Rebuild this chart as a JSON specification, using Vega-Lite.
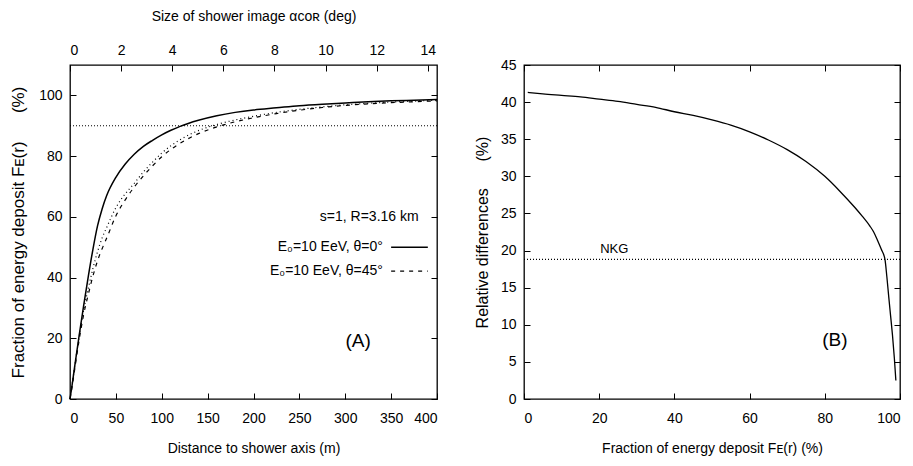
{
  "$schema": "https://vega.github.io/schema/vega-lite/v6.json",
  "padding": {"left": 8, "top": 8, "right": 5, "bottom": 5},
  "spacing": 32,
  "config": {
    "view": {"stroke": "black", "strokeWidth": 1.3},
    "axis": {
      "domain": false, "grid": false, "tickColor": "black", "tickSize": 6, "offset": -6, "tickWidth": 1,
      "labelColor": "black", "labelFont": "Liberation Sans", "labelFontSize": 14, "labelPadding": 8,
      "titleColor": "black", "titleFont": "Liberation Sans", "titleFontSize": 14, "titleFontWeight": "normal"
    },
    "axisY": {"titleFontSize": 16}
  },
  "datasets": {
    "curves": [
      {"series": "t0", "r": 0, "F": 0}, {"series": "t0", "r": 2, "F": 4}, {"series": "t0", "r": 5, "F": 10.5}, {"series": "t0", "r": 10, "F": 21}, {"series": "t0", "r": 15, "F": 31}, {"series": "t0", "r": 20, "F": 40.5}, {"series": "t0", "r": 25, "F": 49.3}, {"series": "t0", "r": 30, "F": 57}, {"series": "t0", "r": 35, "F": 62.6}, {"series": "t0", "r": 40, "F": 67}, {"series": "t0", "r": 50, "F": 73}, {"series": "t0", "r": 60, "F": 77.3}, {"series": "t0", "r": 70, "F": 80.6}, {"series": "t0", "r": 80, "F": 83.2}, {"series": "t0", "r": 90, "F": 85.2}, {"series": "t0", "r": 100, "F": 87}, {"series": "t0", "r": 110, "F": 88.5}, {"series": "t0", "r": 120, "F": 89.8}, {"series": "t0", "r": 140, "F": 91.8}, {"series": "t0", "r": 160, "F": 93.3}, {"series": "t0", "r": 180, "F": 94.4}, {"series": "t0", "r": 200, "F": 95.2}, {"series": "t0", "r": 225, "F": 95.9}, {"series": "t0", "r": 250, "F": 96.6}, {"series": "t0", "r": 275, "F": 97.1}, {"series": "t0", "r": 300, "F": 97.5}, {"series": "t0", "r": 325, "F": 97.9}, {"series": "t0", "r": 350, "F": 98.2}, {"series": "t0", "r": 375, "F": 98.4}, {"series": "t0", "r": 400, "F": 98.6},
      {"series": "t45", "r": 0, "F": 0}, {"series": "t45", "r": 2, "F": 3.5}, {"series": "t45", "r": 5, "F": 9.5}, {"series": "t45", "r": 10, "F": 19.5}, {"series": "t45", "r": 15, "F": 28}, {"series": "t45", "r": 20, "F": 34.5}, {"series": "t45", "r": 25, "F": 40.5}, {"series": "t45", "r": 30, "F": 45.5}, {"series": "t45", "r": 35, "F": 49.5}, {"series": "t45", "r": 40, "F": 53}, {"series": "t45", "r": 50, "F": 60.3}, {"series": "t45", "r": 60, "F": 65.5}, {"series": "t45", "r": 70, "F": 69.8}, {"series": "t45", "r": 80, "F": 73.5}, {"series": "t45", "r": 90, "F": 76.8}, {"series": "t45", "r": 100, "F": 79.8}, {"series": "t45", "r": 110, "F": 82.2}, {"series": "t45", "r": 120, "F": 84.2}, {"series": "t45", "r": 140, "F": 87.4}, {"series": "t45", "r": 160, "F": 89.6}, {"series": "t45", "r": 180, "F": 91.3}, {"series": "t45", "r": 200, "F": 92.6}, {"series": "t45", "r": 225, "F": 94}, {"series": "t45", "r": 250, "F": 95.1}, {"series": "t45", "r": 275, "F": 96}, {"series": "t45", "r": 300, "F": 96.7}, {"series": "t45", "r": 325, "F": 97.2}, {"series": "t45", "r": 350, "F": 97.6}, {"series": "t45", "r": 375, "F": 97.9}, {"series": "t45", "r": 400, "F": 98.2},
      {"series": "nkg", "r": 0, "F": 0}, {"series": "nkg", "r": 2, "F": 4}, {"series": "nkg", "r": 5, "F": 10.5}, {"series": "nkg", "r": 10, "F": 20.5}, {"series": "nkg", "r": 15, "F": 29.5}, {"series": "nkg", "r": 20, "F": 36.5}, {"series": "nkg", "r": 25, "F": 43}, {"series": "nkg", "r": 30, "F": 48.5}, {"series": "nkg", "r": 35, "F": 53}, {"series": "nkg", "r": 40, "F": 56.5}, {"series": "nkg", "r": 50, "F": 63}, {"series": "nkg", "r": 60, "F": 67.5}, {"series": "nkg", "r": 70, "F": 71}, {"series": "nkg", "r": 80, "F": 74.8}, {"series": "nkg", "r": 90, "F": 78}, {"series": "nkg", "r": 100, "F": 81}, {"series": "nkg", "r": 110, "F": 83.4}, {"series": "nkg", "r": 120, "F": 85.4}, {"series": "nkg", "r": 140, "F": 88.4}, {"series": "nkg", "r": 160, "F": 90.4}, {"series": "nkg", "r": 180, "F": 91.9}, {"series": "nkg", "r": 200, "F": 93.1}, {"series": "nkg", "r": 225, "F": 94.4}, {"series": "nkg", "r": 250, "F": 95.4}, {"series": "nkg", "r": 275, "F": 96.2}, {"series": "nkg", "r": 300, "F": 96.9}, {"series": "nkg", "r": 325, "F": 97.4}, {"series": "nkg", "r": 350, "F": 97.8}, {"series": "nkg", "r": 375, "F": 98.1}, {"series": "nkg", "r": 400, "F": 98.4}
    ],
    "diff": [
      {"fe": 1, "d": 41.3}, {"fe": 5, "d": 41.1}, {"fe": 10, "d": 40.9}, {"fe": 15, "d": 40.7}, {"fe": 20, "d": 40.4}, {"fe": 25, "d": 40.1}, {"fe": 30, "d": 39.7}, {"fe": 35, "d": 39.3}, {"fe": 40, "d": 38.7}, {"fe": 45, "d": 38.2}, {"fe": 50, "d": 37.6}, {"fe": 55, "d": 36.9}, {"fe": 60, "d": 36.0}, {"fe": 65, "d": 34.9}, {"fe": 70, "d": 33.6}, {"fe": 75, "d": 32.0}, {"fe": 80, "d": 30.0}, {"fe": 84, "d": 28.0}, {"fe": 88, "d": 25.8}, {"fe": 90, "d": 24.6}, {"fe": 92, "d": 23.3}, {"fe": 93, "d": 22.5}, {"fe": 94, "d": 21.4}, {"fe": 95, "d": 20.2}, {"fe": 96, "d": 18.8}, {"fe": 96.5, "d": 16.5}, {"fe": 97, "d": 13.8}, {"fe": 97.5, "d": 11.2}, {"fe": 98, "d": 8.6}, {"fe": 98.5, "d": 5.5}, {"fe": 98.9, "d": 2.5}
    ]
  },
  "hconcat": [
    {
      "width": 367, "height": 334,
      "data": {"name": "curves"},
      "layer": [
        {
          "transform": [{"filter": "datum.series == 't0'"}],
          "mark": {"type": "line", "color": "black", "strokeWidth": 1.5, "interpolate": "monotone"},
          "encoding": {
            "x": {"field": "r", "type": "quantitative", "scale": {"domain": [0, 400], "nice": false, "zero": false},
                  "axis": {"orient": "bottom", "values": [0, 50, 100, 150, 200, 250, 300, 350, 400], "title": "Distance to shower axis (m)", "labelPadding": 12, "titlePadding": 16}},
            "y": {"field": "F", "type": "quantitative", "scale": {"domain": [0, 110], "nice": false},
                  "axis": {"orient": "left", "values": [0, 20, 40, 60, 80, 100], "title": "Fraction of energy deposit Fᴇ(r)\u00a0\u00a0\u00a0\u00a0\u00a0\u00a0(%)", "titleFontSize": 17, "titlePadding": 11}}
          }
        },
        {
          "transform": [{"filter": "datum.series == 't45'"}],
          "mark": {"type": "line", "color": "black", "strokeWidth": 1.2, "strokeDash": [4, 5], "interpolate": "monotone"},
          "encoding": {
            "x": {"field": "r", "type": "quantitative",
                  "axis": {"orient": "top", "values": [0, 55.71, 111.42, 167.13, 222.84, 278.55, 334.26, 389.97], "labelExpr": "format(datum.value*14.36/400, '.0f')", "title": "Size of shower image αᴄᴏʀ (deg)", "titlePadding": 20}},
            "y": {"field": "F", "type": "quantitative",
                  "axis": {"orient": "right", "values": [0, 20, 40, 60, 80, 100], "labels": false, "title": null}}
          }
        },
        {
          "transform": [{"filter": "datum.series == 'nkg'"}],
          "mark": {"type": "line", "color": "black", "strokeWidth": 1.2, "strokeDash": [1, 3], "interpolate": "monotone"},
          "encoding": {
            "x": {"field": "r", "type": "quantitative", "axis": null},
            "y": {"field": "F", "type": "quantitative", "axis": null}
          }
        },
        {
          "data": {"values": [{"level": 90}]},
          "mark": {"type": "rule", "color": "black", "strokeWidth": 1.2, "strokeDash": [1, 2]},
          "encoding": {"y": {"field": "level", "type": "quantitative", "axis": null}}
        },
        {
          "data": {"values": [{"t": "s=1, R=3.16 km"}]},
          "mark": {"type": "text", "align": "right", "baseline": "middle", "font": "Liberation Sans", "fontSize": 14, "color": "black"},
          "encoding": {"x": {"datum": 380, "axis": null}, "y": {"datum": 60, "axis": null}, "text": {"field": "t"}}
        },
        {
          "data": {"values": [{"t": "E₀=10 EeV, θ=0°"}]},
          "mark": {"type": "text", "align": "right", "baseline": "middle", "font": "Liberation Sans", "fontSize": 14, "color": "black"},
          "encoding": {"x": {"datum": 341, "axis": null}, "y": {"datum": 50, "axis": null}, "text": {"field": "t"}}
        },
        {
          "data": {"values": [{"t": "E₀=10 EeV, θ=45°"}]},
          "mark": {"type": "text", "align": "right", "baseline": "middle", "font": "Liberation Sans", "fontSize": 14, "color": "black"},
          "encoding": {"x": {"datum": 341, "axis": null}, "y": {"datum": 42.1, "axis": null}, "text": {"field": "t"}}
        },
        {
          "data": {"values": [{"k": "t0"}]},
          "mark": {"type": "rule", "color": "black", "strokeWidth": 1.5},
          "encoding": {"x": {"datum": 350, "axis": null}, "x2": {"datum": 390}, "y": {"datum": 50, "axis": null}}
        },
        {
          "data": {"values": [{"k": "t45"}]},
          "mark": {"type": "rule", "color": "black", "strokeWidth": 1.2, "strokeDash": [4, 5]},
          "encoding": {"x": {"datum": 350, "axis": null}, "x2": {"datum": 390}, "y": {"datum": 42.1, "axis": null}}
        },
        {
          "data": {"values": [{"t": "(A)"}]},
          "mark": {"type": "text", "align": "center", "baseline": "middle", "font": "Liberation Sans", "fontSize": 19, "color": "black"},
          "encoding": {"x": {"datum": 314, "axis": null}, "y": {"datum": 19, "axis": null}, "text": {"field": "t"}}
        }
      ],
      "resolve": {"axis": {"x": "independent", "y": "independent"}}
    },
    {
      "width": 376, "height": 334,
      "data": {"name": "diff"},
      "layer": [
        {
          "mark": {"type": "line", "color": "black", "strokeWidth": 1.3, "interpolate": "monotone"},
          "encoding": {
            "x": {"field": "fe", "type": "quantitative", "scale": {"domain": [0, 100], "nice": false},
                  "axis": {"orient": "bottom", "values": [0, 20, 40, 60, 80, 100], "title": "Fraction of energy deposit Fᴇ(r) (%)", "labelPadding": 12, "titlePadding": 16}},
            "y": {"field": "d", "type": "quantitative", "scale": {"domain": [0, 45], "nice": false},
                  "axis": {"orient": "left", "values": [0, 5, 10, 15, 20, 25, 30, 35, 40, 45], "title": "Relative differences\u00a0\u00a0\u00a0\u00a0\u00a0\u00a0(%)", "titlePadding": 10}}
          }
        },
        {
          "data": {"values": [{"level": 18.8}]},
          "mark": {"type": "rule", "color": "black", "strokeWidth": 1.2, "strokeDash": [1, 2]},
          "encoding": {"y": {"field": "level", "type": "quantitative", "axis": null}}
        },
        {
          "data": {"values": [{"t": "NKG"}]},
          "mark": {"type": "text", "align": "center", "baseline": "bottom", "font": "Liberation Sans", "fontSize": 13, "color": "black"},
          "encoding": {
            "x": {"datum": 24, "axis": {"orient": "top", "values": [0, 20, 40, 60, 80, 100], "labels": false, "title": null}},
            "y": {"datum": 19.3, "axis": {"orient": "right", "values": [0, 5, 10, 15, 20, 25, 30, 35, 40, 45], "labels": false, "title": null}},
            "text": {"field": "t"}
          }
        },
        {
          "data": {"values": [{"t": "(B)"}]},
          "mark": {"type": "text", "align": "center", "baseline": "middle", "font": "Liberation Sans", "fontSize": 19, "color": "black"},
          "encoding": {"x": {"datum": 82.7, "axis": null}, "y": {"datum": 7.9, "axis": null}, "text": {"field": "t"}}
        }
      ],
      "resolve": {"axis": {"x": "independent", "y": "independent"}}
    }
  ]
}
